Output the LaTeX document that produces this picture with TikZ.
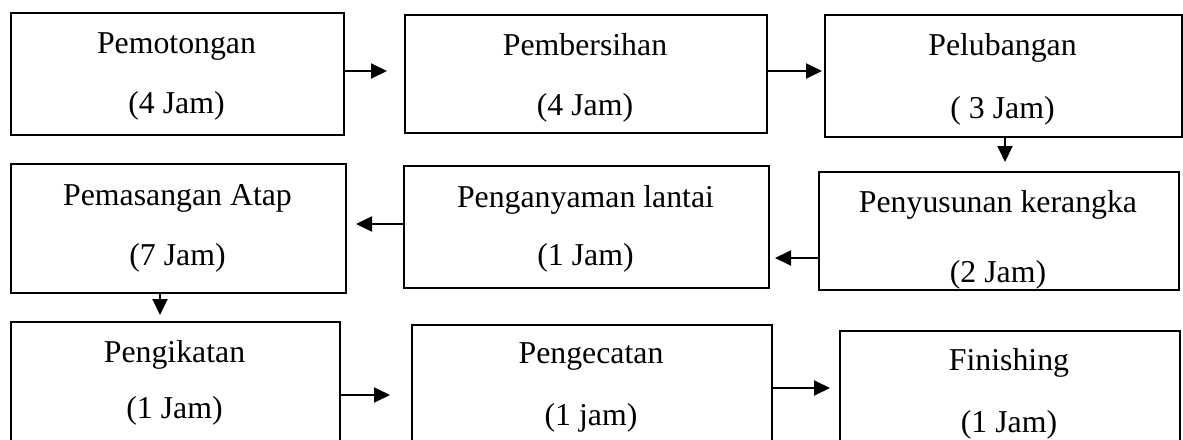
\documentclass[tikz,border=0pt]{standalone}
\usepackage{fontspec}
\setmainfont{Liberation Serif}
\usetikzlibrary{arrows.meta}
\begin{document}
\begin{tikzpicture}[x=1pt,y=-1pt,
  box/.style={draw=black,line width=1.8pt,inner sep=0pt,anchor=north west},
  txt/.style={anchor=base,inner sep=0pt,font=\fontsize{31.8}{36}\selectfont},
  arr/.style={line width=1.9pt,-{Triangle[length=16pt,width=15pt]}}]
\useasboundingbox (0,0) rectangle (1183,439);
\clip (0,0) rectangle (1183,439);
% boxes
\node[box,minimum width=333pt,minimum height=122pt] (b1) at (10,12) {};
\node[box,minimum width=362pt,minimum height=118pt] (b2) at (404,14) {};
\node[box,minimum width=357pt,minimum height=122pt] (b3) at (824,14) {};
\node[box,minimum width=335pt,minimum height=129pt] (b4) at (10,163) {};
\node[box,minimum width=365pt,minimum height=122pt] (b5) at (403,165) {};
\node[box,minimum width=360pt,minimum height=118pt] (b6) at (818,171) {};
\node[box,minimum width=329pt,minimum height=150pt] (b7) at (10,321) {};
\node[box,minimum width=360pt,minimum height=150pt] (b8) at (411,324) {};
\node[box,minimum width=340pt,minimum height=150pt] (b9) at (839,330) {};
% texts
\node[txt] (t1a) at (176.5,53) {Pemotongan};
\node[txt] (t1b) at (176.5,113) {(4 Jam)};
\node[txt] (t2a) at (585,55) {Pembersihan};
\node[txt] (t2b) at (585,115) {(4 Jam)};
\node[txt] (t3a) at (1002.5,55) {Pelubangan};
\node[txt] (t3b) at (1002.5,118) {( 3 Jam)};
\node[txt] (t4a) at (177.5,205) {Pemasangan Atap};
\node[txt] (t4b) at (177.5,265) {(7 Jam)};
\node[txt] (t5a) at (585.5,207) {Penganyaman lantai};
\node[txt] (t5b) at (585.5,265) {(1 Jam)};
\node[txt] (t6a) at (998,212) {Penyusunan kerangka};
\node[txt] (t6b) at (998,282) {(2 Jam)};
\node[txt] (t7a) at (174.5,362) {Pengikatan};
\node[txt] (t7b) at (174.5,418) {(1 Jam)};
\node[txt] (t8a) at (591,363) {Pengecatan};
\node[txt] (t8b) at (591,425) {(1 jam)};
\node[txt] (t9a) at (1009,370) {Finishing};
\node[txt] (t9b) at (1009,432) {(1 Jam)};
% arrow tips
\coordinate (p1) at (387,71);
\coordinate (p2) at (822,71);
\coordinate (p3) at (1005,162);
\coordinate (p4) at (775,258);
\coordinate (p5) at (356,224);
\coordinate (p6) at (160,315);
\coordinate (p7) at (390,395);
\coordinate (p8) at (830,388);
\draw[arr] (p1 -| b1.east) -- (p1);
\draw[arr] (p2 -| b2.east) -- (p2);
\draw[arr] (p3 |- b3.south) -- (p3);
\draw[arr] (p4 -| b6.west) -- (p4);
\draw[arr] (p5 -| b5.west) -- (p5);
\draw[arr] (p6 |- b4.south) -- (p6);
\draw[arr] (p7 -| b7.east) -- (p7);
\draw[arr] (p8 -| b8.east) -- (p8);
\end{tikzpicture}
\end{document}
